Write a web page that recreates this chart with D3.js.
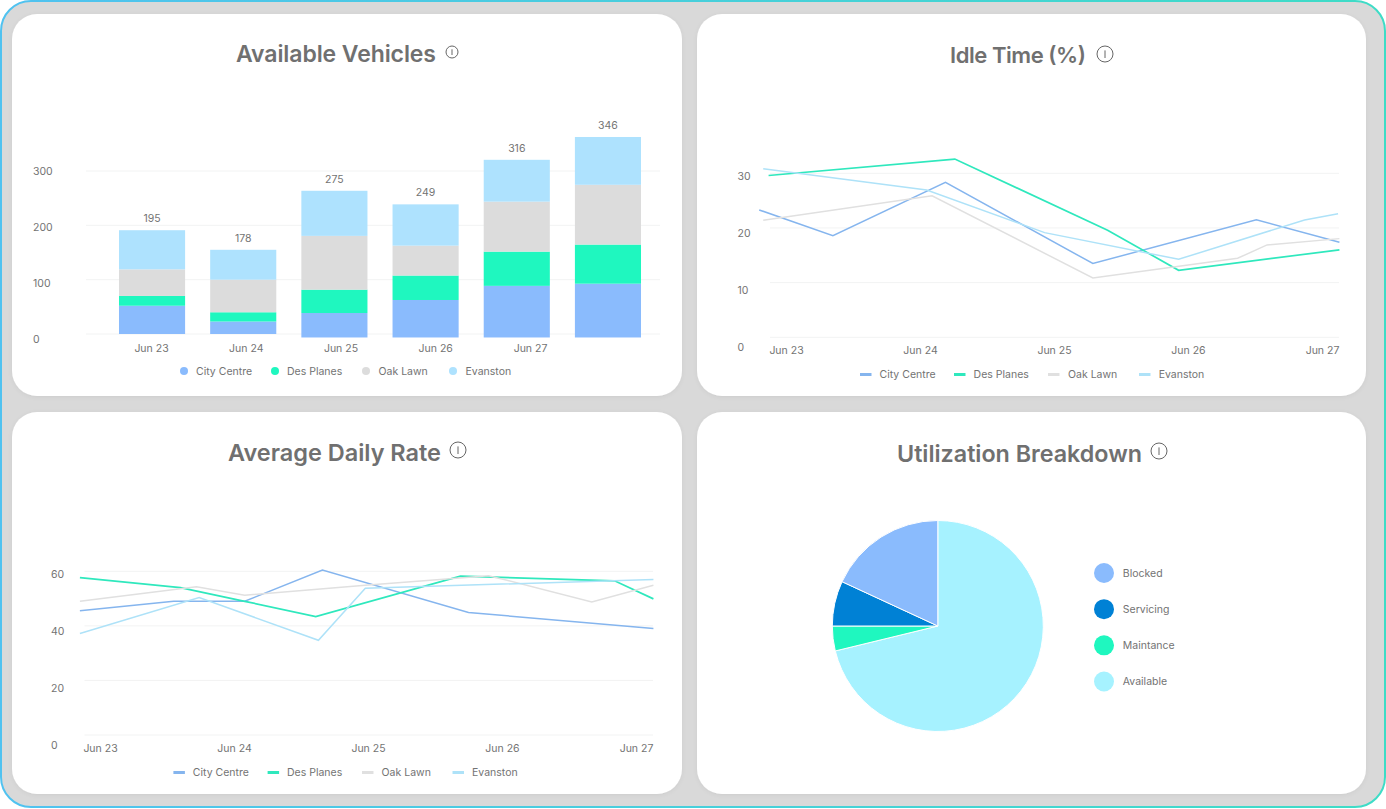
<!DOCTYPE html>
<html>
<head>
<meta charset="utf-8">
<script src="https://cdn.jsdelivr.net/npm/d3@7"></script>
<style>
html, body { margin: 0; padding: 0; background: #fff; }
svg { display: block; }
text { font-family: Inter, "Open Sans", sans-serif; fill: #737373; font-size: 10.5px; }
.title { font-weight: 600; fill: #707070; }
.grid { stroke: #f2f3f3; stroke-width: 1; }
.domain, .tick line { display: none; }
</style>
</head>
<body>
<svg id="page" width="1386" height="809"></svg>
<script>
var seriesNames = ["City Centre", "Des Planes", "Oak Lawn", "Evanston"];
var seriesColors = ["#8abbfd", "#1ff7bf", "#dcdcdc", "#aee2fe"];
var lineColors = ["#85b5ee", "#2fe8bd", "#e0e0e0", "#aee2f8"];
var days = ["Jun 23", "Jun 24", "Jun 25", "Jun 26", "Jun 27"];

// available vehicles
var barIds = ["a", "b", "c", "d", "e", "f"];
var barBase = [0, 0, -6.4, -6.4, -6.4, -6.4];
var barCity = [52, 23, 45, 69, 95, 99];
var barDes = [18, 17, 43, 45, 63, 72];
var barOak = [49, 60, 99, 55, 92, 110];
var barEvanston = [72, 55, 83, 76, 77, 88];
var barTotals = [195, 178, 275, 249, 316, 346];
var vehicleTicks = [0, 100, 200, 300];

// idle time, x is days after Jun 23
var idleCityX = [-0.2, 0.35, 1.19, 2.29, 3.51, 4.13];
var idleCityY = [23.3, 18.6, 28.35, 13.5, 21.5, 17.4];
var idleDesX = [-0.13, 1.26, 2.4, 2.93, 4.13];
var idleDesY = [29.6, 32.6, 19.6, 12.25, 16];
var idleOakX = [-0.17, 1.09, 2.29, 3.37, 3.59, 4.13];
var idleOakY = [21.4, 25.9, 10.85, 14.45, 16.9, 18.05];
var idleEvanstonX = [-0.17, 1.05, 1.93, 2.93, 3.87, 4.12];
var idleEvanstonY = [30.85, 26.95, 19.15, 14.27, 21.46, 22.6];
var idleTicks = [0, 10, 20, 30];

// average daily rate
var rateCityX = [-0.15, 0.55, 1.08, 1.66, 2.75, 4.13];
var rateCityY = [45.5, 49, 49, 60.5, 44.9, 39];
var rateDesX = [-0.15, 0.6, 1.08, 1.61, 2.69, 3.84, 4.13];
var rateDesY = [57.7, 54, 49, 43.4, 58.2, 56.5, 49.9];
var rateOakX = [-0.15, 0.72, 1.08, 1.98, 2.9, 3.67, 4.13];
var rateOakY = [49, 54.3, 51.2, 54.9, 58.4, 48.8, 54.9];
var rateEvanstonX = [-0.15, 0.74, 1.63, 1.98, 4.13];
var rateEvanstonY = [37.2, 50.4, 34.7, 53.8, 57];
var rateTicks = [0, 20, 40, 60];

// utilization
var pieNames = ["Available", "Maintance", "Servicing", "Blocked"];
var pieValues = [71.2, 3.8, 6.9, 18.1];
var pieColors = ["#a6f2ff", "#1ff7bf", "#0081d5", "#8abbfd"];
var pieLegendOrder = ["Blocked", "Servicing", "Maintance", "Available"];

var svg = d3.select("#page");

var defs = svg.append("defs");
var grad = defs.append("linearGradient").attr("id", "frame");
grad.append("stop").attr("offset", "0%").attr("stop-color", "#50c2f0");
grad.append("stop").attr("offset", "100%").attr("stop-color", "#3edcc6");
var shadow = defs.append("filter").attr("id", "soft")
    .attr("x", "-5%").attr("y", "-5%").attr("width", "110%").attr("height", "110%");
shadow.append("feDropShadow").attr("dx", 0).attr("dy", 1).attr("stdDeviation", 2)
    .attr("flood-color", "#000").attr("flood-opacity", 0.06);

svg.append("rect")
    .attr("x", 1).attr("y", 1).attr("width", 1384).attr("height", 806)
    .attr("rx", 30)
    .attr("fill", "#d9d9d9")
    .attr("stroke", "url(#frame)")
    .attr("stroke-width", 2);

function card(x, y, w, h){
    svg.append("rect")
        .attr("x", x).attr("y", y).attr("width", w).attr("height", h)
        .attr("rx", 25)
        .attr("fill", "#fff")
        .attr("filter", "url(#soft)");
}

function title(label, x, y, size, width, iconX, iconY, iconR){
    svg.append("text").attr("class", "title")
        .attr("x", x).attr("y", y)
        .attr("text-anchor", "middle")
        .attr("dominant-baseline", "central")
        .style("font-size", size + "px")
        .attr("textLength", width)
        .text(label);
    svg.append("circle")
        .attr("cx", iconX).attr("cy", iconY).attr("r", iconR)
        .attr("fill", "none").attr("stroke", "#666").attr("stroke-width", 1);
    svg.append("line")
        .attr("x1", iconX).attr("x2", iconX)
        .attr("y1", iconY - iconR * 0.45).attr("y2", iconY + iconR * 0.5)
        .attr("stroke", "#666").attr("stroke-width", 1);
}

// gridlines and tick labels sit on different scales in the original
function yFrame(ticks, gridY, labelY, x0, x1, labelX){
    svg.append("g").selectAll("line").data(ticks).join("line")
        .attr("class", "grid")
        .attr("x1", x0).attr("x2", x1)
        .attr("y1", gridY).attr("y2", gridY);
    var axis = svg.append("g")
        .attr("transform", "translate(" + labelX + ",0)")
        .call(d3.axisRight(labelY).tickValues(ticks).tickSize(0).tickPadding(0));
    axis.selectAll("text").attr("text-anchor", "start");
}

function xLabels(scale, y){
    svg.append("g")
        .attr("transform", "translate(0," + y + ")")
        .call(d3.axisBottom(scale).tickValues(d3.range(days.length))
            .tickFormat(function(d){ return days[d]; }).tickSize(0).tickPadding(0))
        .selectAll("text").attr("dy", "0.32em");
}

function lineLegend(swatchX, textX, y){
    seriesNames.forEach(function(name, i){
        svg.append("line")
            .attr("x1", swatchX[i]).attr("x2", swatchX[i] + 11.5)
            .attr("y1", y).attr("y2", y)
            .attr("stroke", lineColors[i]).attr("stroke-width", 3);
        svg.append("text")
            .attr("x", textX[i]).attr("y", y)
            .attr("dominant-baseline", "central")
            .text(name);
    });
}

function drawLines(xScale, yScale, xs, ys){
    var line = d3.line()
        .x(function(d){ return xScale(d[0]); })
        .y(function(d){ return yScale(d[1]); });
    xs.forEach(function(x, i){
        svg.append("path")
            .datum(d3.zip(x, ys[i]))
            .attr("fill", "none")
            .attr("stroke", lineColors[i])
            .attr("stroke-width", i == 1 ? 1.7 : 1.5)
            .attr("d", line);
    });
}

// top left, stacked bars
card(12, 14, 670, 382);
title("Available Vehicles", 336, 54, 23, 200, 452, 52, 6);
var vy = d3.scaleLinear().domain([0, 300]).range([334, 171]);
var vLabel = d3.scaleLinear().domain([0, 300]).range([339, 171]);
var vx = d3.scaleBand().domain(barIds).range([106.5, 653.5]).paddingInner(0.275).paddingOuter(0.137);
yFrame(vehicleTicks, vy, vLabel, 86, 660, 33);

var stack = d3.stack().keys(["city", "des", "oak", "evanston"]);
var barRows = barIds.map(function(id, i){
    return { id: id, city: barCity[i], des: barDes[i], oak: barOak[i], evanston: barEvanston[i], base: barBase[i] };
});
stack(barRows).forEach(function(layer, s){
    svg.append("g").attr("fill", seriesColors[s])
        .selectAll("rect").data(layer).join("rect")
        .attr("x", function(d){ return vx(d.data.id); })
        .attr("width", vx.bandwidth())
        .attr("y", function(d){ return vy(d[1] + d.data.base); })
        .attr("height", function(d){ return vy(d[0] + d.data.base) - vy(d[1] + d.data.base); });
});
svg.append("g").selectAll("text").data(barRows).join("text")
    .attr("x", function(d){ return vx(d.id) + vx.bandwidth() / 2; })
    .attr("y", function(d){ return vy(d.base + d.city + d.des + d.oak + d.evanston) - 11.5; })
    .attr("text-anchor", "middle")
    .attr("dominant-baseline", "central")
    .text(function(d, i){ return barTotals[i]; });

xLabels(d3.scaleLinear().domain([0, 4]).range([151, 530]), 349);

var dotX = [184, 275, 366, 453];
var dotTextX = [196, 287, 378.5, 465.5];
seriesNames.forEach(function(name, i){
    svg.append("circle").attr("cx", dotX[i]).attr("cy", 371).attr("r", 4).attr("fill", seriesColors[i]);
    svg.append("text").attr("x", dotTextX[i]).attr("y", 371)
        .attr("dominant-baseline", "central").text(name);
});

// top right, idle time
card(697, 14, 669, 382);
title("Idle Time (%)", 1018, 55, 22, 136, 1105, 54, 8);
var iy = d3.scaleLinear().domain([0, 30]).range([337.3, 173.3]);
var iLabel = d3.scaleLinear().domain([0, 30]).range([347, 176]);
var ix = d3.scaleLinear().domain([0, 4]).range([786, 1322]);
yFrame(idleTicks, iy, iLabel, 770, 1339, 737.5);
drawLines(ix, iy, [idleCityX, idleDesX, idleOakX, idleEvanstonX], [idleCityY, idleDesY, idleOakY, idleEvanstonY]);
xLabels(ix, 351);
lineLegend([860, 954, 1048, 1139], [879.5, 973.6, 1068, 1158.7], 374.5);

// bottom left, daily rate
card(12, 412, 670, 382);
title("Average Daily Rate", 334.5, 452, 23.5, 213, 458, 450, 8);
var ry = d3.scaleLinear().domain([0, 60]).range([735, 571.3]);
var rLabel = d3.scaleLinear().domain([0, 60]).range([745, 574]);
var rx = d3.scaleLinear().domain([0, 4]).range([100, 636]);
yFrame(rateTicks, ry, rLabel, 84.5, 653, 51);
drawLines(rx, ry, [rateCityX, rateDesX, rateOakX, rateEvanstonX], [rateCityY, rateDesY, rateOakY, rateEvanstonY]);
xLabels(rx, 749);
lineLegend([173.4, 267.6, 362, 452.5], [192.8, 287, 381.6, 472], 772.5);

// bottom right, pie
card(697, 412, 669, 382);
title("Utilization Breakdown", 1019.5, 453, 23.3, 245, 1159, 451, 8);
var pie = d3.pie().sort(null);
var arc = d3.arc().innerRadius(0).outerRadius(105.5);
svg.append("g")
    .attr("transform", "translate(937.8,626)")
    .selectAll("path").data(pie(pieValues)).join("path")
    .attr("d", arc)
    .attr("fill", function(d, i){ return pieColors[i]; })
    .attr("stroke", "#fff")
    .attr("stroke-width", 1);

var pieLegendY = d3.scalePoint().domain(pieLegendOrder).range([573, 681.5]);
pieLegendOrder.forEach(function(name){
    svg.append("circle")
        .attr("cx", 1104).attr("cy", pieLegendY(name)).attr("r", 10)
        .attr("fill", pieColors[pieNames.indexOf(name)]);
    svg.append("text")
        .attr("x", 1122.8).attr("y", pieLegendY(name))
        .attr("dominant-baseline", "central").text(name);
});
</script>
</body>
</html>
